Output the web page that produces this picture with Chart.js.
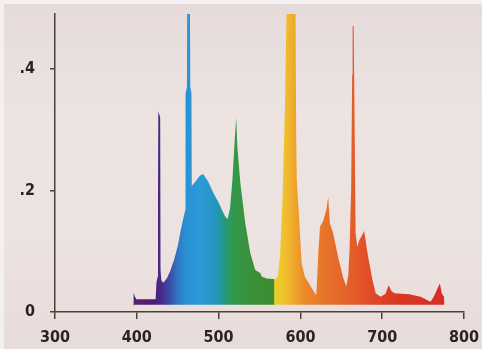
<!DOCTYPE html>
<html>
<head>
<meta charset="utf-8">
<script src="https://cdn.jsdelivr.net/npm/chart.js@4"></script>
<style>
  html, body { margin: 0; padding: 0; }
  #wrap {
    width: 482px; height: 349px; position: relative;
    background: linear-gradient(to bottom, #e6dadb 0%, #ede4e2 35%, #ece2df 70%, #e8dcda 100%);
    box-shadow: inset 4px 4px 0 #f4f0f1;
  }
  canvas { display: block; }
</style>
</head>
<body>
<div id="wrap"><canvas id="c" width="482" height="349"></canvas></div>
<script>
// ---- data ----
const wavelengths = [
  395.5, 396, 397.5, 399.5, 410, 423, 424, 425.5, 425.9, 426.3, 428.6, 429.0, 430, 432.6,
  437, 441, 445.6, 450, 453.8, 457, 459.3, 459.6, 461.3, 461.6, 465.0, 465.4, 466.8, 467.2,
  472, 477, 481, 487, 494, 500, 504, 508, 511, 514, 517, 520, 521.5, 523, 526.6, 532.6,
  538.7, 544.8, 550.8, 553, 558.9, 570, 572.5, 575, 578, 581, 583, 594, 594.8, 595.5,
  599.5, 601.5, 605.5, 611.5, 617.6, 619.5, 622, 624, 628, 632, 634, 636, 640, 646, 652,
  656, 658.5, 660, 662, 663.3, 663.8, 665.2, 665.7, 667.5, 669.5, 672, 678, 682, 688, 692,
  698, 704, 708, 711, 715, 733, 747, 759, 763, 768, 770.5, 773, 775.5, 776
];
const intensity = [
  0.013, 0.032, 0.026, 0.021, 0.021, 0.021, 0.048, 0.058, 0.19, 0.33, 0.32, 0.07, 0.052, 0.048,
  0.056, 0.068, 0.086, 0.108, 0.135, 0.155, 0.168, 0.36, 0.37, 0.49, 0.49, 0.37, 0.36, 0.207,
  0.215, 0.224, 0.227, 0.215, 0.195, 0.18, 0.168, 0.157, 0.153, 0.17, 0.22, 0.29, 0.32, 0.27, 0.212, 0.146,
  0.097, 0.069, 0.064, 0.058, 0.055, 0.054, 0.06, 0.09, 0.18, 0.33, 0.49, 0.49, 0.3, 0.22,
  0.13, 0.08, 0.058, 0.045, 0.031, 0.028, 0.1, 0.14, 0.15, 0.17, 0.19, 0.146, 0.13, 0.091, 0.058,
  0.042, 0.06, 0.1, 0.2, 0.39, 0.47, 0.47, 0.39, 0.13, 0.107, 0.118, 0.133, 0.097, 0.053, 0.031,
  0.025, 0.03, 0.044, 0.035, 0.031, 0.029, 0.025, 0.017, 0.025, 0.04, 0.047, 0.03, 0.025, 0.013
];
const xTickValues = [300, 400, 500, 600, 700, 800];
const xTickLabels = ['300', '400', '500', '600', '700', '800'];
const yTickValues = [0, 0.2, 0.4];
const yTickLabels = ['0', '.2', '.4'];
const FILL_BASE = 0.012;

// rainbow colouring by wavelength (style)
const gradNm = [395, 420, 430, 440, 450, 460, 480, 495, 503, 510, 520, 540, 567.5, 568.5, 580, 592, 605, 630, 660, 690, 720, 776];
const gradCol = ['#5b2170', '#4e1c72', '#4a2a86', '#3c4aa6', '#2f78c4', '#2a92d4', '#2b9ad6', '#2596c4',
  '#20989c', '#28996e', '#34984a', '#3a9038', '#3d8c34', '#e8cf2a', '#efc22e', '#f0a82c', '#ec8a2a',
  '#e8742a', '#e4602a', '#df4826', '#db3624', '#d82c22'];

const AXIS = '#4a413c';
const TXT = '#2a2421';
const FONT = '"DejaVu Sans Condensed", "DejaVu Sans", sans-serif';

function spectrumFill(ctx) {
  const chart = ctx.chart;
  if (!chart.chartArea) return null;
  const xs = chart.scales.x;
  const g = chart.ctx.createLinearGradient(xs.left, 0, xs.right, 0);
  const w = xs.right - xs.left;
  gradNm.forEach((nm, i) => {
    const t = Math.min(1, Math.max(0, (xs.getPixelForValue(nm) - xs.left) / w));
    g.addColorStop(t, gradCol[i]);
  });
  return g;
}

new Chart(document.getElementById('c'), {
  type: 'line',
  data: {
    datasets: [{
      data: wavelengths.map((w, i) => ({ x: w, y: intensity[i] })),
      fill: { value: FILL_BASE },
      backgroundColor: spectrumFill,
      borderColor: 'rgba(0,0,0,0)',
      borderWidth: 0,
      pointRadius: 0,
      tension: 0
    }]
  },
  options: {
    responsive: false,
    animation: false,
    devicePixelRatio: 1,
    layout: { padding: { top: 14, right: 18, left: 0, bottom: 0 } },
    plugins: { legend: { display: false }, tooltip: { enabled: false } },
    scales: {
      x: {
        type: 'linear', min: 300, max: 800,
        afterBuildTicks: s => { s.ticks = xTickValues.map(v => ({ value: v })); },
        afterFit: s => { s.height = 37; s.paddingLeft = 0; s.paddingRight = 0; },
        ticks: {
          callback: (v) => xTickLabels[xTickValues.indexOf(v)] ?? '',
          color: TXT, font: { family: FONT, size: 16, weight: 'bold' }, padding: 9,
          maxRotation: 0, autoSkip: false
        },
        grid: { drawOnChartArea: false, drawTicks: true, tickLength: 7, color: AXIS, lineWidth: 1.5 },
        border: { display: true, color: AXIS, width: 1.5 }
      },
      y: {
        min: 0, max: 0.49,
        afterBuildTicks: s => { s.ticks = yTickValues.map(v => ({ value: v })); },
        afterFit: s => { s.width = 55; s.paddingTop = 0; s.paddingBottom = 0; },
        ticks: {
          callback: (v) => yTickLabels[yTickValues.indexOf(v)] ?? '',
          color: TXT, font: { family: FONT, size: 16, weight: 'bold' }, padding: 15
        },
        grid: { drawOnChartArea: false, drawTicks: true, tickLength: 5, color: AXIS, lineWidth: 1.5 },
        border: { display: true, color: AXIS, width: 1.5 }
      }
    }
  }
});
</script>
</body>
</html>
